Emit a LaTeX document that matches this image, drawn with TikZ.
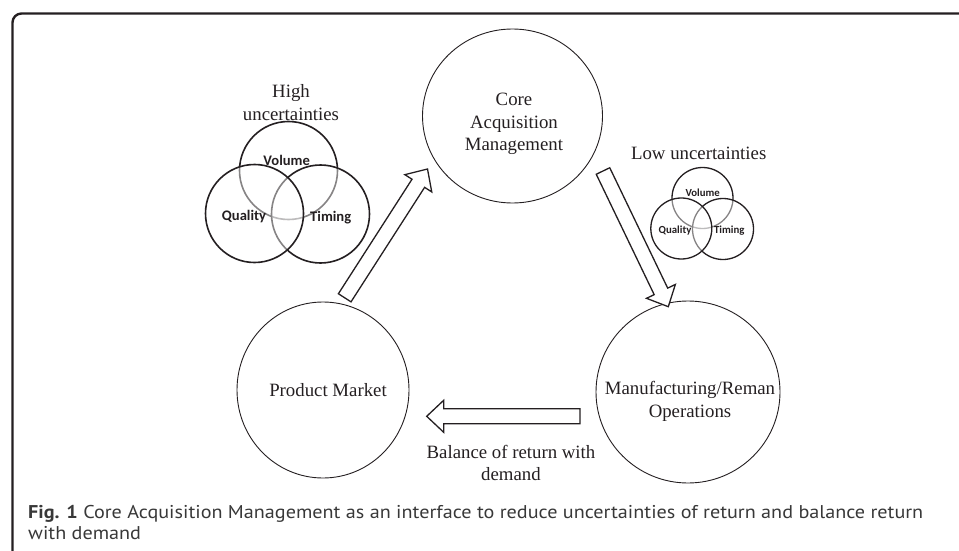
\documentclass[tikz,border=0pt]{standalone}
\usepackage{fontspec}
\setmainfont{Liberation Serif}
\newfontfamily\capfont[FakeStretch=1.09]{PT Sans}
\newfontfamily\vennfont{Carlito}
\usetikzlibrary{calc,shapes.geometric}

\definecolor{inkgray}{rgb}{0.14,0.12,0.13}
\definecolor{capgray}{rgb}{0.22,0.22,0.22}

\tikzset{
  frame/.style={draw=inkgray,line width=2.4pt,rounded corners=9pt},
  bigcircle/.style={ellipse,draw=inkgray,line width=0.9pt,inner sep=0pt},
  venn/.style={circle,draw=inkgray,line width=1.6pt,fill=white,fill opacity=0.45,inner sep=0pt},
  vennlbl/.style={font=\vennfont\bfseries\fontsize{14.6}{16}\selectfont,text=inkgray,inner sep=0pt},
  smalllbl/.style={font=\vennfont\bfseries\fontsize{10.8}{12}\selectfont,text=inkgray,inner sep=0pt},
  serif/.style={font=\fontsize{18.8}{22.5}\selectfont,align=center,text=inkgray,inner sep=0pt},
  hollow/.style={draw=inkgray,fill=white,line width=1.3pt,line join=miter},
  caption/.style={font=\capfont\fontsize{18.5}{21}\selectfont,align=left,text=capgray,inner sep=0pt}
}

% hollow block arrow from #2 (tail) to #3 (tip), head length #1
\newcommand{\blockarrow}[3][17]{%
  \path coordinate (hb) at ($(#3)!#1pt!(#2)$);
  \draw[hollow] ($(#2)!7.5pt!90:(#3)$) -- ($(hb)!7.5pt!90:(#3)$)
    -- ($(hb)!16pt!90:(#3)$) -- (#3) -- ($(hb)!16pt!-90:(#3)$)
    -- ($(hb)!7.5pt!-90:(#3)$) -- ($(#2)!7.5pt!-90:(#3)$) -- cycle;
}

\begin{document}
\begin{tikzpicture}[x=1pt,y=-1pt]
\useasboundingbox (0,0) rectangle (959,551);

\draw[frame] (12.5,551) -- (12.5,13.5) -- (959,13.5);

% stages
\node[bigcircle,minimum width=180pt,minimum height=174pt] (core) at (512.5,116) {};
\node[bigcircle,minimum width=172pt,minimum height=176pt] (market) at (323,390) {};
\node[bigcircle,minimum width=184pt,minimum height=182pt] (reman) at (688,392) {};

\node[serif] (coretxt) at (514,124) {Core\\Acquisition\\Management};
\node[serif] (markettxt) at (328,390) {Product Market};
\node[serif] (remantxt) at (690,401.5) {Manufacturing/Reman\\Operations};
\node[serif] (hightxt) at (291,102.5) {High\\uncertainties};
\node[serif] (lowtxt) at (698.7,153) {Low uncertainties};
\node[serif] (baltxt) at (511,463) {Balance of return with\\demand};

% arrows
\coordinate (market-out) at (344.7,297.8);
\coordinate (core-in) at (427.5,169);
\coordinate (core-out) at (603,171);
\coordinate (reman-in) at (668.3,306.7);
\coordinate (reman-out) at (580,416.3);
\coordinate (market-in) at (426.7,416.3);
\foreach \a/\b in {market-out/core-in,core-out/reman-in,reman-out/market-in}
	{\blockarrow{\a}{\b}}

% venn diagrams
\foreach \n/\x/\y in {hv/288.5/170.5,ht/320.5/214,hq/254.5/213.5}
	\node[venn,minimum size=98pt] (\n) at (\x,\y) {};
\foreach \n/\x/\y in {lv/702.5/198,lt/723/229,lq/681.3/228.5}
	\node[venn,minimum size=61pt,line width=1.3pt] (\n) at (\x,\y) {};

\node[vennlbl] (hvol) at (286.7,160) {Volume};
\node[vennlbl] (hqual) at (244,216.7) {Quality};
\node[vennlbl] (htim) at (330.7,217.7) {Timing};
\node[smalllbl] (lvol) at (702.7,192.3) {Volume};
\node[smalllbl] (lqual) at (675,230.7) {Quality};
\node[smalllbl] (ltim) at (729.3,231) {Timing};

\node[caption,anchor=north west] (cap) at (28,505.5)
  {\textbf{Fig. 1} Core Acquisition Management as an interface to reduce uncertainties of return and balance return\\with demand};

\end{tikzpicture}
\end{document}
